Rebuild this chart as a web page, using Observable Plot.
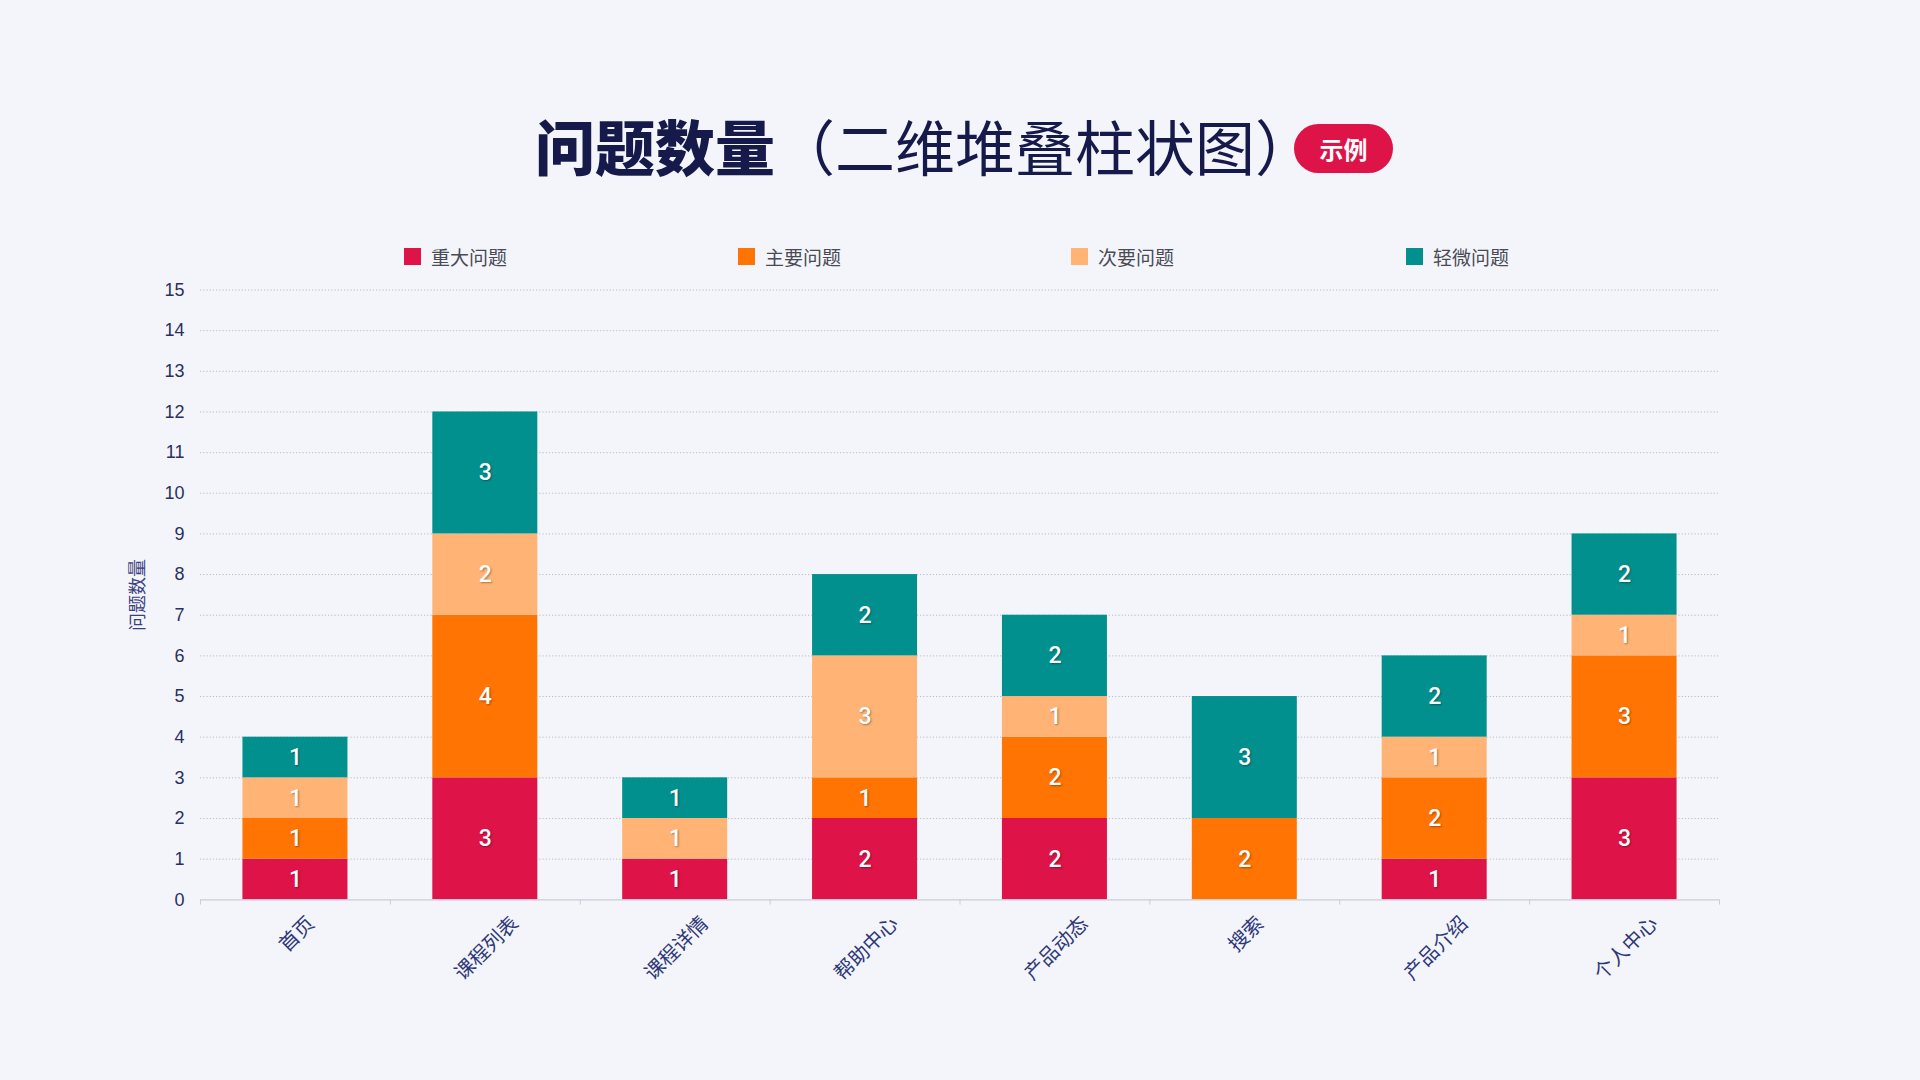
<!DOCTYPE html>
<html>
<head>
<meta charset="utf-8">
<script src="https://cdn.jsdelivr.net/npm/d3@7"></script>
<script src="https://cdn.jsdelivr.net/npm/@observablehq/plot@0.6"></script>
<style>
  html, body { margin: 0; padding: 0; background: #f3f5fa; width: 1920px; height: 1080px; overflow: hidden; }
  body { position: relative; font-family: "Liberation Sans", "Noto Sans CJK SC", sans-serif; }
  #title { position: absolute; left: 535px; top: 112px; height: 66px; white-space: nowrap; font-family: "Noto Sans CJK SC", sans-serif; font-size: 60px; color: #161a4b; line-height: 66px; }
  #title b { font-weight: 900; }
  #title span { font-weight: 400; }
  #badge { position: absolute; left: 1294px; top: 124px; width: 99px; height: 49px; border-radius: 25px; background: #de1348; color: #fff; font-family: "Noto Sans CJK SC", sans-serif; font-weight: 700; font-size: 24px; display: flex; align-items: center; justify-content: center; }
  #legend { position: absolute; top: 244px; left: 0; width: 1920px; height: 24px; z-index: 2; }
  #legend .item { position: absolute; display: flex; align-items: center; height: 24px; font-family: "Noto Sans CJK SC", sans-serif; font-size: 19px; color: #4a4a55; }
  #legend .sw { width: 17px; height: 17px; margin-right: 10px; }
  #chart { position: absolute; left: 0; top: 270px; }
</style>
</head>
<body>
<div id="title"><b>问题数量</b><span>（二维堆叠柱状图）</span></div>
<div id="badge">示例</div>
<div id="legend"></div>
<div id="chart"></div>
<script>
const categories = ["首页", "课程列表", "课程详情", "帮助中心", "产品动态", "搜索", "产品介绍", "个人中心"];
const seriesNames = ["重大问题", "主要问题", "次要问题", "轻微问题"];
const seriesColors = ["#de1348", "#ff7402", "#ffb375", "#02908e"];
const critical = [1, 3, 1, 2, 2, 0, 1, 3];
const major    = [1, 4, 0, 1, 2, 2, 2, 3];
const minor    = [1, 2, 1, 3, 1, 0, 1, 1];
const trivial  = [1, 3, 1, 2, 2, 3, 2, 2];
const yTicks = [0,1,2,3,4,5,6,7,8,9,10,11,12,13,14,15];

const seriesValues = [critical, major, minor, trivial];
const rows = [];
seriesNames.forEach((s, si) => categories.forEach((c, ci) => rows.push({cat: c, series: s, value: seriesValues[si][ci], order: si})));

// legend
const legendX = [404, 738, 1071, 1406];
const lg = document.getElementById("legend");
seriesNames.forEach((s, i) => {
  const it = document.createElement("div");
  it.className = "item";
  it.style.left = legendX[i] + "px";
  it.innerHTML = `<div class="sw" style="background:${seriesColors[i]}"></div>${s}`;
  lg.appendChild(it);
});

const W = 1920, H = 740;
const marginLeft = 200, marginRight = 201, marginTop = 19.5, marginBottom = H - (899.3 - 270);
const step = (W - marginLeft - marginRight) / categories.length;
const labelFont = 20;

// rotated category labels: centred under each bar, top of rotated box aligned
const lengths = Array.from(new Set(categories.map(c => c.length)));
const labelMarks = lengths.map(n => Plot.text(categories.filter(c => c.length === n), {
  x: d => d, frameAnchor: "bottom", dx: 6, dy: 25 + n * labelFont * 0.3536,
  rotate: -45, textAnchor: "middle", fontSize: labelFont, fill: "#2f3878",
  fontFamily: "'Noto Sans CJK SC', sans-serif"
}));

const plot = Plot.plot({
  width: W,
  height: H,
  marginLeft, marginRight, marginTop, marginBottom,
  style: { background: "transparent", fontFamily: "'Liberation Sans', 'Noto Sans CJK SC', sans-serif", overflow: "visible" },
  x: { domain: categories, paddingInner: 0.447, paddingOuter: 0.2235, round: false, label: null, axis: null },
  y: { domain: [0, 15], label: null },
  color: { domain: seriesNames, range: seriesColors },
  marks: [
    Plot.gridY(yTicks.filter(d => d > 0), { stroke: "#a9adbb", strokeOpacity: 1, strokeWidth: 0.8, strokeDasharray: "1.2,2" }),
    Plot.axisY(yTicks, { tickSize: 0, tickPadding: 16, fontSize: 18, fill: "#2b2f5e", label: null }),
    Plot.text(["问题数量"], { frameAnchor: "left", textAnchor: "middle", dx: -62, rotate: -90, fontSize: 18, fill: "#3b4080", fontFamily: "'Noto Sans CJK SC', sans-serif" }),
    ...labelMarks,
    Plot.barY(rows, Plot.stackY({ x: "cat", y: "value", fill: "series", order: seriesNames, inset: 0 })),
    Plot.ruleY([0], { stroke: "#c9cdd9", strokeWidth: 1.2 }),
    Plot.ruleX(categories, { x: d => d, dx: -step / 2, y1: 0, y2: -0.13, stroke: "#c9cdd9" }),
    Plot.ruleX(categories.slice(-1), { x: d => d, dx: step / 2, y1: 0, y2: -0.13, stroke: "#c9cdd9" }),
    Plot.text(rows, Plot.stackY({ x: "cat", y: "value", z: "series", order: seriesNames, text: d => d.value > 0 ? String(d.value) : "", fill: "white", fontSize: 23, fontWeight: 500, fontFamily: "Roboto, 'Liberation Sans', sans-serif" }))
  ]
});
d3.select(plot).selectAll("g[aria-label='text']").filter((d, i, nodes) => nodes[i] === nodes[nodes.length - 1]).selectAll("text").style("text-shadow", "1px 1px 2px rgba(0,0,0,0.35)");
document.getElementById("chart").appendChild(plot);
</script>
</body>
</html>
